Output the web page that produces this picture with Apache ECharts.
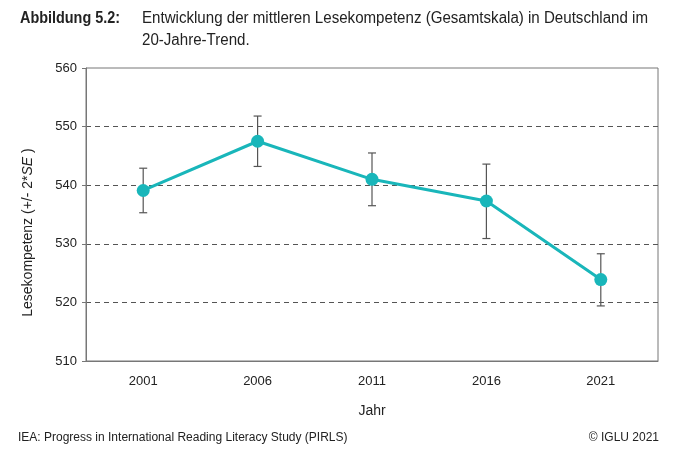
<!DOCTYPE html>
<html>
<head>
<meta charset="utf-8">
<script src="https://cdn.jsdelivr.net/npm/echarts@6/dist/echarts.min.js"></script>
<style>
  html, body { margin: 0; padding: 0; background: #fff; }
  #main { width: 680px; height: 462px; }
</style>
</head>
<body>
<div id="main"></div>
<script>
var years = ['2001', '2006', '2011', '2016', '2021'];
var means = [539.1, 547.5, 541.0, 537.3, 523.9];
var upper = [542.9, 551.8, 545.5, 543.6, 528.3];
var lower = [535.3, 543.2, 536.5, 530.9, 519.4];

var figLabel = 'Abbildung 5.2:';
var titleLines = ['Entwicklung der mittleren Lesekompetenz (Gesamtskala) in Deutschland im', '20-Jahre-Trend.'];
var sourceText = 'IEA: Progress in International Reading Literacy Study (PIRLS)';
var copyText = '\u00a9 IGLU 2021';

var teal = '#19b6ba';
var errData = [];
for (var i = 0; i < years.length; i++) {
    errData.push([i, lower[i], upper[i]]);
}

// squeeze the title font to look like the condensed face of the original
var ctx = document.createElement('canvas').getContext('2d');
var boldFont = 'bold 16px "Liberation Sans"';
var normFont = '16px "Liberation Sans"';
ctx.font = boldFont;
var sxBold = 100 / ctx.measureText(figLabel).width;
ctx.font = normFont;
var sxNorm = 506 / ctx.measureText(titleLines[0]).width;

var chart = echarts.init(document.getElementById('main'));

var option = {
    backgroundColor: '#fff',
    animation: false,
    textStyle: { fontFamily: 'Liberation Sans, Arial, sans-serif' },
    graphic: [
        {
            type: 'text', x: 20, y: 19, scaleX: sxBold,
            style: { text: figLabel, font: boldFont, fill: '#222', verticalAlign: 'middle' }
        },
        {
            type: 'text', x: 142, y: 19, scaleX: sxNorm,
            style: { text: titleLines[0], font: normFont, fill: '#222', verticalAlign: 'middle' }
        },
        {
            type: 'text', x: 142, y: 40.5, scaleX: sxNorm,
            style: { text: titleLines[1], font: normFont, fill: '#222', verticalAlign: 'middle' }
        },
        {
            type: 'text', x: 18, y: 438,
            style: { text: sourceText, font: '12px "Liberation Sans"', fill: '#222', verticalAlign: 'middle' }
        },
        {
            type: 'text', x: 659, y: 438,
            style: { text: copyText, font: '12px "Liberation Sans"', fill: '#222', verticalAlign: 'middle', align: 'right' }
        }
    ],
    grid: {
        left: 86, right: 22, top: 68, bottom: 101,
        show: true, borderColor: '#777', borderWidth: 1
    },
    xAxis: {
        type: 'category',
        data: years,
        boundaryGap: true,
        name: 'Jahr',
        nameLocation: 'middle',
        nameGap: 43,
        nameTextStyle: { fontSize: 14, color: '#222' },
        axisLine: { lineStyle: { color: '#777' } },
        axisTick: { alignWithLabel: true, inside: true, length: 4, lineStyle: { color: '#777' } },
        axisLabel: { fontSize: 13, color: '#222', margin: 14 }
    },
    yAxis: {
        type: 'value',
        min: 510, max: 560, interval: 10,
        name: 'Lesekompetenz (+/- 2*{i|SE} )',
        nameLocation: 'middle',
        nameGap: 51,
        nameTextStyle: {
            fontSize: 14, color: '#222', padding: [0, 36, 0, 0],
            rich: { i: { fontStyle: 'italic', fontSize: 14, color: '#222' } }
        },
        axisLine: { show: true, lineStyle: { color: '#777' } },
        axisTick: { show: true, length: 4, lineStyle: { color: '#777' } },
        axisLabel: { fontSize: 13, color: '#222', margin: 9 },
        splitLine: {
            show: true,
            lineStyle: {
                color: ['rgba(0,0,0,0)', '#555', '#555', '#555', '#555', 'rgba(0,0,0,0)'],
                type: [5, 4], width: 1
            }
        }
    },
    series: [
        {
            type: 'custom',
            z: 2,
            data: errData,
            renderItem: function (params, api) {
                var x = api.value(0);
                var lo = api.coord([x, api.value(1)]);
                var hi = api.coord([x, api.value(2)]);
                var w = 4;
                var st = { stroke: '#555', lineWidth: 1.2, fill: null };
                return {
                    type: 'group',
                    children: [
                        { type: 'line', shape: { x1: lo[0], y1: lo[1], x2: hi[0], y2: hi[1] }, style: st },
                        { type: 'line', shape: { x1: lo[0] - w, y1: lo[1], x2: lo[0] + w, y2: lo[1] }, style: st },
                        { type: 'line', shape: { x1: hi[0] - w, y1: hi[1], x2: hi[0] + w, y2: hi[1] }, style: st }
                    ]
                };
            }
        },
        {
            type: 'line',
            z: 3,
            data: means,
            symbol: 'circle',
            symbolSize: 13,
            lineStyle: { color: teal, width: 3 },
            itemStyle: { color: teal }
        }
    ]
};

chart.setOption(option);
</script>
</body>
</html>
